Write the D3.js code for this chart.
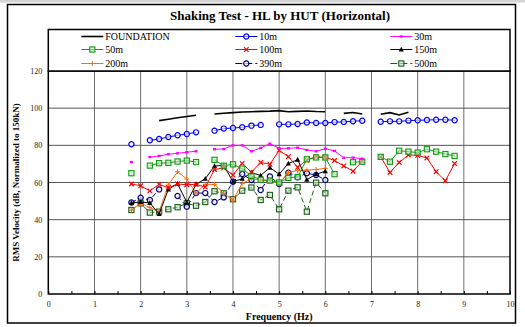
<!DOCTYPE html>
<html>
<head>
<meta charset="utf-8">
<script src="https://cdn.jsdelivr.net/npm/d3@7"></script>
<style>
  body { margin: 0; background: #fff; }
  text { font-family: "Liberation Serif", "Times New Roman", serif; }
</style>
</head>
<body>
<div id="plot1"></div>
<script>
// frequency (Hz) of every sample, null = no reading
const freq = [1.8, 2.0, 2.2, 2.4, 2.6, 2.8, 3.0, 3.2, 3.4, 3.6, 3.8, 4.0, 4.2, 4.4, 4.6, 4.8, 5.0, 5.2,
              5.4, 5.6, 5.8, 6.0, 6.2, 6.4, 6.6, 6.8, 7.0, 7.2, 7.4, 7.6, 7.8, 8.0, 8.2, 8.4, 8.6, 8.8];

const foundation = [null, null, null, 93.3, 94.0, 94.8, 95.5, 96.2, null, 96.9, 97.3, 97.6, 97.9, 98.1, 98.3, 98.4, 98.7, 98.1,
                    98.3, 98.5, 98.2, 98.1, null, 97.2, 97.7, 96.9, null, 96.7, 97.6, 96.3, 97.8, null, null, null, null, null];
const v10m = [80.6, null, 82.7, 83.4, 84.5, 85.4, 86.1, 87.0, null, 87.9, 89.0, 89.3, 89.7, 90.6, 91.0, null, 91.3, 91.3,
              91.5, 92.3, 92.0, 92.0, 92.5, 92.6, 93.0, 93.2, null, 92.7, 92.9, 92.9, 93.3, 93.5, 93.6, 93.8, 93.8, 93.5];
const v30m = [71.0, null, 73.7, 74.3, 75.2, 75.7, 76.3, 76.8, null, 77.9, 78.0, 80.0, 80.0, 76.8, 78.6, 80.9, 78.4, 78.4,
              78.7, 77.5, 76.8, 78.2, 77.0, 73.3, 73.4, 72.8, null, null, null, null, null, null, null, null, null, null];
const v50m = [65.0, null, 69.1, 70.4, 70.6, 71.3, 71.8, 71.0, null, 72.2, 69.0, 69.8, 67.5, 63.5, 61.5, 61.0, 60.0, 62.5,
              63.0, 72.5, 73.5, 73.5, 64.5, null, 70.9, 71.2, null, 73.8, 71.2, 77.1, 76.6, 76.1, 77.9, 76.6, 75.3, 74.3];
const v100m = [59.2, 58.2, 55.5, 59.0, 57.2, 59.2, 58.8, 59.0, 57.5, 67.0, 67.8, 64.0, 70.3, 65.5, 70.8, 69.8, 77.3, 73.9,
               68.2, 72.1, 73.8, 73.6, 71.8, 68.9, 66.1, 71.5, null, 73.8, 65.4, 70.8, 74.8, 74.6, 73.2, 65.8, 60.9, 70.2];
const v150m = [49.0, 49.5, 49.0, 43.0, 56.3, 59.3, 49.3, 59.0, 62.0, 68.9, 69.2, 60.4, 62.0, 65.3, 63.8, 68.0, 64.5, 70.2,
               72.3, 61.5, 64.5, 66.0, null, null, null, null, null, null, null, null, null, null, null, null, null, null];
const v200m = [45.2, 48.8, 46.5, 44.3, 58.7, 65.8, 61.9, 54.2, 59.0, 59.0, 54.2, 50.5, 59.5, 62.0, 61.4, 61.0, 59.3, 65.5,
               66.4, 66.7, 67.0, 67.6, null, null, null, null, null, null, null, null, null, null, null, null, null, null];
const v390m = [49.2, 51.8, 50.6, 56.3, null, 52.7, 47.0, 54.3, 54.3, 49.5, 52.0, 60.4, 64.6, 61.3, 56.0, 63.2, 59.2, 65.3,
               62.8, 65.0, 64.0, 61.4, null, null, null, null, null, null, null, null, null, null, null, null, null, null];
const v500m = [45.2, 48.8, 43.8, 44.3, 45.6, 46.7, 48.8, 47.5, 49.5, 55.3, 54.2, 51.0, 55.6, 57.3, 50.6, 53.3, 45.6, 55.6,
               57.4, 44.3, 59.9, 54.2, null, null, null, null, null, null, null, null, null, null, null, null, null, null];

const seriesNames = ['FOUNDATION', '10m', '30m', '50m', '100m', '150m', '200m', '390m', '500m'];
const seriesValues = [foundation, v10m, v30m, v50m, v100m, v150m, v200m, v390m, v500m];

const xTicks = [0, 1, 2, 3, 4, 5, 6, 7, 8, 9, 10];
const yTicks = [0, 20, 40, 60, 80, 100, 120];

// look of each series
const styles = {
    'FOUNDATION': {color: '#000000', marker: 'none', width: 1.6},
    '10m':  {color: '#0000ff', marker: 'circle'},
    '30m':  {color: '#ff00ff', marker: 'dash'},
    '50m':  {color: '#129a12', marker: 'square'},
    '100m': {color: '#ff0000', marker: 'cross'},
    '150m': {color: '#000000', marker: 'triangle'},
    '200m': {color: '#ff6a10', marker: 'plus'},
    '390m': {color: '#000080', marker: 'circle', dash: '5,3'},
    '500m': {color: '#1f5a1f', marker: 'square', dash: '5,3'}
};

const W = 525, H = 327;
const margin = {top: 71, right: 15, bottom: 33, left: 48.3};
const width = 510 - margin.left;
const height = 294 - margin.top;

let svg = d3.select('#plot1')
    .append('svg')
    .attr('width', W)
    .attr('height', H);

// thin grey strip along the top edge
svg.append('rect')
    .attr('width', W).attr('height', 2.5)
    .style('fill', '#d4d4d4');

// outer frame
svg.append('rect')
    .attr('x', 7.5).attr('y', 4.5)
    .attr('width', 508).attr('height', 318.5)
    .style('fill', 'none')
    .style('stroke', '#000')
    .style('stroke-width', '1.5px');

svg.append('text')
    .attr('x', 280).attr('y', 20)
    .style('text-anchor', 'middle')
    .style('font-weight', 'bold')
    .style('font-size', '13px')
    .text('Shaking Test - HL by HUT (Horizontal)');

let chart = svg.append('g')
    .attr('transform', 'translate(' + margin.left + ', ' + margin.top + ')');

let xs = d3.scaleLinear().domain([0, 10]).range([0, width]);
let ys = d3.scaleLinear().domain([0, 120]).range([height, 0]);

// grid
chart.selectAll('.vgrid')
    .data(xTicks.slice(1, -1))
    .enter().append('line')
    .attr('x1', d => xs(d)).attr('x2', d => xs(d))
    .attr('y1', 0).attr('y2', height)
    .style('stroke', '#6e6e6e')
    .style('stroke-width', '1px');

chart.selectAll('.hgrid')
    .data(yTicks.slice(1, -1))
    .enter().append('line')
    .attr('x1', 0).attr('x2', width)
    .attr('y1', d => ys(d)).attr('y2', d => ys(d))
    .style('stroke', '#555')
    .style('stroke-width', '1px');

// axes
let xAxis = d3.axisBottom(xs)
    .tickValues(d3.range(0, 10.01, 0.5))
    .tickSize(-3)
    .tickFormat(d => Number.isInteger(d) ? d : '');

chart.append('g')
    .attr('class', 'x axis')
    .attr('transform', 'translate(0, ' + height + ')')
    .call(xAxis)
    .call(g => g.select('.domain').remove())
    .call(g => g.selectAll('.tick line').style('stroke', '#000'))
    .call(g => g.selectAll('text')
        .attr('y', 7.5)
        .style('font-family', '"Liberation Serif", serif')
        .style('font-size', '8px')
        .style('fill', '#222'));

let yAxis = d3.axisLeft(ys)
    .tickValues(yTicks)
    .tickSize(0)
    .tickPadding(6);

chart.append('g')
    .attr('class', 'y axis')
    .call(yAxis)
    .call(g => g.select('.domain').remove())
    .call(g => g.selectAll('text')
        .style('font-family', '"Liberation Serif", serif')
        .style('font-size', '8px')
        .style('fill', '#222'));

chart.append('text')
    .attr('x', width / 2)
    .attr('y', height + 25.5)
    .style('text-anchor', 'middle')
    .style('font-weight', 'bold')
    .style('font-size', '10px')
    .text('Frequency (Hz)');

chart.append('text')
    .attr('transform', 'rotate(-90)')
    .attr('x', -height / 2)
    .attr('y', -29)
    .style('text-anchor', 'middle')
    .style('font-weight', 'bold')
    .style('font-size', '9px')
    .text('RMS Velocity (dB, Normalized to 150kN)');

function drawMarker(g, type, color) {
    if (type === 'circle') {
        g.append('circle').attr('r', 2.6)
            .style('fill', 'rgba(255,255,255,0.6)').style('stroke', color).style('stroke-width', '1.2px');
    } else if (type === 'square') {
        g.append('rect').attr('x', -2.6).attr('y', -2.6).attr('width', 5.2).attr('height', 5.2)
            .style('fill', 'rgba(190,230,190,0.6)').style('stroke', color).style('stroke-width', '1.1px');
    } else if (type === 'dash') {
        g.append('rect').attr('x', -1.5).attr('y', -1.2).attr('width', 3).attr('height', 2.4)
            .style('fill', color);
    } else if (type === 'cross') {
        g.append('path').attr('d', 'M-2.3,-2.3L2.3,2.3M-2.3,2.3L2.3,-2.3')
            .style('stroke', color).style('stroke-width', '1.2px');
    } else if (type === 'plus') {
        g.append('path').attr('d', 'M-2.5,0L2.5,0M0,-2.5L0,2.5')
            .style('stroke', color).style('stroke-width', '1px');
    } else if (type === 'triangle') {
        g.append('path').attr('d', 'M0,-2.8L2.6,2L-2.6,2Z')
            .style('fill', color);
    }
}

const lineGenerator = d3.line()
    .defined(d => d.v != null)
    .x(d => xs(d.f))
    .y(d => ys(d.v));

// draw series back to front so the upper ones overlap like the original
let drawOrder = ['500m', '390m', '200m', '150m', '100m', '50m', '30m', '10m', 'FOUNDATION'];
drawOrder.forEach(name => {
    let vals = seriesValues[seriesNames.indexOf(name)];
    let st = styles[name];
    let pts = freq.map((f, i) => ({f: f, v: vals[i]}));

    chart.append('path')
        .datum(pts)
        .attr('d', lineGenerator)
        .style('fill', 'none')
        .style('stroke', st.color)
        .style('stroke-width', (st.width || 1) + 'px')
        .style('stroke-dasharray', st.dash || null);

    if (st.marker === 'none') return;
    chart.selectAll(null)
        .data(pts.filter(d => d.v != null))
        .enter().append('g')
        .attr('transform', d => 'translate(' + xs(d.f) + ',' + ys(d.v) + ')')
        .each(function() { drawMarker(d3.select(this), st.marker, st.color); });
});

// plot border
chart.append('rect')
    .attr('width', width).attr('height', height)
    .style('fill', 'none')
    .style('stroke', '#000')
    .style('stroke-width', '1.5px');

// legend box
let legendBox = svg.append('g').attr('transform', 'translate(' + margin.left + ', 29.5)');
legendBox.append('rect')
    .attr('width', width).attr('height', margin.top - 29.5)
    .style('fill', '#fff')
    .style('stroke', '#000')
    .style('stroke-width', '1.5px');

const legendCols = [33, 187, 342];
const legendRows = [7, 20, 34];

let legend = legendBox.selectAll('.legend')
    .data(seriesNames)
    .enter().append('g')
    .attr('class', 'legend')
    .attr('transform', (d, i) => 'translate(' + legendCols[i % 3] + ', ' + legendRows[Math.floor(i / 3)] + ')');

legend.append('line')
    .attr('x1', 0).attr('x2', 22)
    .style('stroke', d => styles[d].color)
    .style('stroke-width', d => (styles[d].width || 1) + 'px')
    .style('stroke-dasharray', d => styles[d].dash ? '7,3' : null);

legend.each(function(d) {
    if (styles[d].marker === 'none') return;
    let g = d3.select(this).append('g').attr('transform', 'translate(11, 0)');
    drawMarker(g, styles[d].marker, styles[d].color);
});

legend.append('text')
    .attr('x', 24)
    .attr('y', 3.5)
    .style('font-size', '10px')
    .text(d => d);
</script>
</body>
</html>
